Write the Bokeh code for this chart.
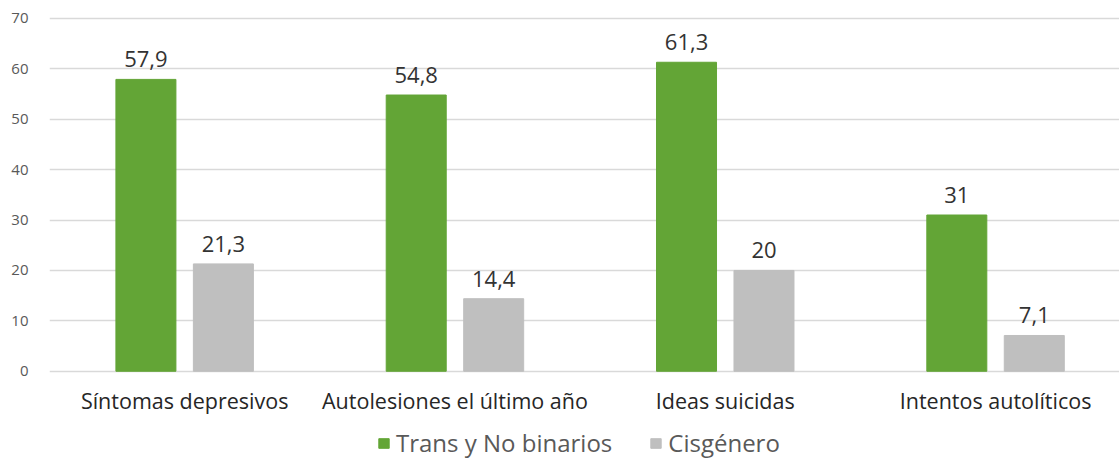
from bokeh.plotting import figure
from bokeh.models import Range1d, FixedTicker, Legend, LegendItem, ColumnDataSource
from bokeh.core.properties import value
from bokeh.embed import file_html
from bokeh.resources import INLINE

# --- data -------------------------------------------------------------
categories = ["Síntomas depresivos", "Autolesiones el último año",
              "Ideas suicidas", "Intentos autolíticos"]
trans_nb = [57.9, 54.8, 61.3, 31.0]
cisgenero = [21.3, 14.4, 20.0, 7.1]
trans_nb_labels = ["57,9", "54,8", "61,3", "31"]
cisgenero_labels = ["21,3", "14,4", "20", "7,1"]
series_names = ["Trans y No binarios", "Cisgénero"]
y_ticks = [0, 10, 20, 30, 40, 50, 60, 70]

# --- styling ----------------------------------------------------------
W, H = 1119, 459
LEFT = 49
GREEN = "#63A536"
GREY = "#BFBFBF"
FONT = "Open Sans"

# vertical scale: 70 sits near the top, 0 a bit below mid-height
Y1 = 73.55
Y0 = -17.50
UNIT_PER_PX = (Y1 - Y0) / H


def px_to_y(py):
    return Y1 - py * UNIT_PER_PX


x_end = (W - LEFT) / 270.3
centers = [i + 0.5 for i in range(len(categories))]
bar_w = 0.222
off = 0.1433

p = figure(width=W, height=H, output_backend="svg", toolbar_location=None,
           x_range=Range1d(0, x_end), y_range=Range1d(Y0, Y1),
           min_border_left=LEFT, min_border_right=0, min_border_top=0,
           min_border_bottom=0, x_axis_location=None)
p.outline_line_color = None
p.background_fill_color = "white"
p.border_fill_color = "white"

# y axis and horizontal grid
ticker = FixedTicker(ticks=y_ticks)
yax = p.yaxis[0]
yax.ticker = ticker
yax.bounds = (0, 70)
yax.axis_line_color = None
yax.major_tick_line_color = None
yax.minor_tick_line_color = None
yax.major_label_standoff = 15
yax.major_label_text_font = FONT
yax.major_label_text_font_size = "15px"
yax.major_label_text_color = "#595959"
p.xgrid.visible = False
p.ygrid.ticker = ticker
p.ygrid.grid_line_color = "#D9D9D9"
p.ygrid.grid_line_width = 1.3

src = ColumnDataSource(dict(
    x=centers, cat=categories,
    tnb=trans_nb, cis=cisgenero,
    tnb_lbl=trans_nb_labels, cis_lbl=cisgenero_labels,
    x_tnb=[c - off for c in centers], x_cis=[c + off for c in centers],
))

r_tnb = p.vbar(x="x_tnb", top="tnb", bottom=0, width=bar_w, source=src,
               fill_color=GREEN, line_color=GREEN)
r_cis = p.vbar(x="x_cis", top="cis", bottom=0, width=bar_w, source=src,
               fill_color=GREY, line_color=GREY)

# value labels just above each bar
lbl_gap = 20 * UNIT_PER_PX
src.data["tnb_ly"] = [v + lbl_gap for v in trans_nb]
src.data["cis_ly"] = [v + lbl_gap for v in cisgenero]
for xcol, ycol, tcol in (("x_tnb", "tnb_ly", "tnb_lbl"), ("x_cis", "cis_ly", "cis_lbl")):
    p.text(x=xcol, y=ycol, text=tcol, source=src, text_align="center",
           text_baseline="alphabetic", text_font=value(FONT),
           text_font_size="22px", text_color="#333333")

# category labels under the baseline
src.data["cat_y"] = [px_to_y(400)] * len(categories)
p.text(x="x", y="cat_y", text="cat", source=src, text_align="center",
       text_baseline="alphabetic", text_font=value(FONT),
       text_font_size="21.5px", text_color="#262626")

legend = Legend(items=[LegendItem(label=series_names[0], renderers=[r_tnb]),
                       LegendItem(label=series_names[1], renderers=[r_cis])],
                orientation="horizontal", location=(377 - LEFT, 0),
                glyph_width=13, glyph_height=12, label_standoff=6, spacing=37,
                padding=0, margin=0, border_line_color=None,
                background_fill_alpha=0, label_text_font=FONT,
                label_text_font_size="24px", label_text_color="#595959")
p.add_layout(legend, "center")

open("out.html", "w").write(file_html(p, INLINE))
